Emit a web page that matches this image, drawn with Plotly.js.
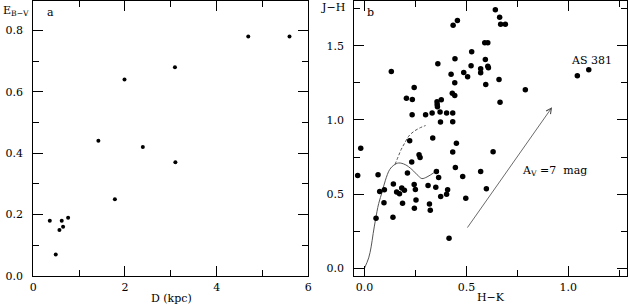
<!DOCTYPE html>
<html>
<head>
<meta charset="utf-8">
<script src="https://cdn.plot.ly/plotly-3.0.1.min.js"></script>
<style>html,body{margin:0;padding:0;background:#fff;}#chart{width:630px;height:304px;}</style>
</head>
<body>
<div id="chart"></div>
<script>
// Panel a: distance vs colour excess
const distKpc = [4.69, 5.59, 1.99, 3.09, 1.42, 2.39, 3.10, 1.78, 0.36, 0.62, 0.76, 0.65, 0.57, 0.49];
const ebv     = [0.78, 0.78, 0.64, 0.68, 0.44, 0.42, 0.37, 0.25, 0.18, 0.18, 0.19, 0.16, 0.15, 0.07];

// Panel b: colour-colour diagram
const hk = [0.132, 0.435, 0.456, 0.590, 0.605, 0.526, 0.360, 0.444, 0.523, 0.593,
            0.605, 0.608, 0.487, 0.506, 0.570, 0.570, 0.425, 0.443, 0.595, 0.244,
            0.431, 0.443, 0.206, 0.235, 0.377, 0.356, 0.357, 0.358, 0.234, 0.300,
            0.332, 0.371, 0.403, 0.433, 0.373, 0.433, 0.335, 0.222, 0.451, -0.018,
            0.642, 0.663, 0.668, 0.691, 0.660, 0.665, 0.789, 1.044, 1.100,
            -0.033, 0.067, 0.268, 0.273, 0.433, 0.232, 0.446, 0.211, 0.353, 0.364,
            0.482, 0.570, 0.598, 0.142, 0.244, 0.312, 0.350, 0.075, 0.098, 0.158,
            0.172, 0.183, 0.196, 0.250, 0.408, 0.403, 0.374, 0.497, 0.096, 0.187,
            0.253, 0.319, 0.245, 0.323, 0.057, 0.140, 0.415, 0.631];
const jh = [1.326, 1.637, 1.669, 1.520, 1.520, 1.459, 1.378, 1.412, 1.365, 1.407,
            1.362, 1.352, 1.320, 1.290, 1.345, 1.318, 1.308, 1.250, 1.238, 1.218,
            1.180, 1.164, 1.146, 1.137, 1.135, 1.122, 1.104, 1.088, 1.034, 1.034,
            1.047, 1.054, 1.047, 1.047, 0.986, 0.988, 0.878, 0.860, 0.842, 0.810,
            1.741, 1.691, 1.644, 1.644, 1.272, 1.119, 1.203, 1.297, 1.338,
            0.626, 0.630, 0.766, 0.747, 0.784, 0.716, 0.680, 0.642, 0.653, 0.612,
            0.619, 0.653, 0.536, 0.568, 0.565, 0.558, 0.547, 0.518, 0.529, 0.514,
            0.502, 0.541, 0.527, 0.531, 0.529, 0.500, 0.484, 0.473, 0.443, 0.439,
            0.461, 0.434, 0.405, 0.392, 0.338, 0.345, 0.203, 0.785];

// Dwarf sequence (solid) and giant branch (dashed)
const dwarfHK = [0.0, 0.021, 0.033, 0.043, 0.054, 0.070, 0.087, 0.103, 0.124, 0.144, 0.168, 0.200, 0.233, 0.266, 0.282, 0.307, 0.339, 0.365];
const dwarfJH = [0.0, 0.071, 0.145, 0.235, 0.325, 0.437, 0.515, 0.594, 0.666, 0.695, 0.710, 0.699, 0.666, 0.621, 0.605, 0.616, 0.643, 0.664];
const giantHK = [0.150, 0.165, 0.180, 0.200, 0.217, 0.240, 0.270, 0.300];
const giantJH = [0.700, 0.750, 0.800, 0.850, 0.890, 0.920, 0.945, 0.962];

// Reddening vector A_V = 7 mag
const vecStart = [0.50, 0.265];
const vecEnd   = [0.92, 1.085];

const FONT = 'DejaVu Serif, Liberation Serif, serif';
const baseAxis = {
  showgrid: false, zeroline: false, showline: true, linecolor: '#000', linewidth: 1,
  mirror: 'allticks', ticks: 'inside', ticklen: 10, tickcolor: '#000', tickwidth: 1,
  tickfont: {family: FONT, size: 11, color: '#000'}
};
const xStand = 1, yStand = 7;

const traces = [
  {x: distKpc, y: ebv, type: 'scatter', mode: 'markers', xaxis: 'x', yaxis: 'y',
   marker: {color: '#000', size: 4}},
  {x: dwarfHK, y: dwarfJH, type: 'scatter', mode: 'lines', xaxis: 'x2', yaxis: 'y2',
   line: {color: '#555', width: 1, shape: 'spline'}},
  {x: giantHK, y: giantJH, type: 'scatter', mode: 'lines', xaxis: 'x2', yaxis: 'y2',
   line: {color: '#555', width: 1, dash: '3px,2px', shape: 'spline'}},
  {x: hk, y: jh, type: 'scatter', mode: 'markers', xaxis: 'x2', yaxis: 'y2',
   marker: {color: '#000', size: 5.5}}
];

const ydom = [1 - 276/304, 1 - 0.5/304];
const layout = {
  width: 630, height: 304, showlegend: false,
  margin: {l: 0, r: 0, t: 0, b: 0},
  paper_bgcolor: '#fff', plot_bgcolor: '#fff',
  font: {family: FONT, size: 11, color: '#000'},
  xaxis: Object.assign({}, baseAxis, {domain: [33.3/630, 308.3/630], range: [0, 6],
    tickvals: [0, 2, 4, 6], ticktext: ['0', '2', '4', '6'], anchor: 'y', ticklabelstandoff: xStand,
    minor: {tickvals: [1, 3, 5], ticks: 'inside', ticklen: 6, tickcolor: '#000'}}),
  yaxis: Object.assign({}, baseAxis, {domain: ydom, range: [0, 0.897], anchor: 'x', ticklabelstandoff: yStand,
    tickvals: [0, 0.2, 0.4, 0.6, 0.8], tickformat: '.1f',
    minor: {tickvals: [0.1, 0.3, 0.5, 0.7], ticks: 'inside', ticklen: 6, tickcolor: '#000'}}),
  xaxis2: Object.assign({}, baseAxis, {domain: [354.2/630, 626.7/630], range: [-0.05, 1.286],
    tickvals: [0, 0.5, 1.0], tickformat: '.1f', anchor: 'y2', ticklabelstandoff: xStand,
    minor: {tickvals: [0.25, 0.75, 1.25], ticks: 'inside', ticklen: 6, tickcolor: '#000'}}),
  yaxis2: Object.assign({}, baseAxis, {domain: ydom, range: [-0.051, 1.804], anchor: 'x2', ticklabelstandoff: yStand,
    tickvals: [0, 0.5, 1.0, 1.5], tickformat: '.1f',
    minor: {tickvals: [0.25, 0.75, 1.25, 1.75], ticks: 'inside', ticklen: 6, tickcolor: '#000'}}),
  annotations: [
    {xref: 'paper', yref: 'paper', x: 1/630, y: 1 - 2/304, xanchor: 'left', yanchor: 'top',
     text: 'E<sub>B−V</sub>', showarrow: false, font: {family: FONT, size: 11}},
    {xref: 'paper', yref: 'paper', x: 333/630, y: 1 - 8/304, xanchor: 'center', yanchor: 'middle',
     text: 'J−H', showarrow: false, font: {family: FONT, size: 11}},
    {xref: 'paper', yref: 'paper', x: 171/630, y: 1 - 298/304, xanchor: 'center', yanchor: 'middle',
     text: 'D (kpc)', showarrow: false, font: {family: FONT, size: 11}},
    {xref: 'paper', yref: 'paper', x: 491/630, y: 1 - 297/304, xanchor: 'center', yanchor: 'middle',
     text: 'H−K', showarrow: false, font: {family: FONT, size: 11}},
    {xref: 'paper', yref: 'paper', x: 50/630, y: 1 - 13/304, xanchor: 'center', yanchor: 'middle',
     text: 'a', showarrow: false, font: {family: FONT, size: 11}},
    {xref: 'paper', yref: 'paper', x: 370/630, y: 1 - 12/304, xanchor: 'center', yanchor: 'middle',
     text: 'b', showarrow: false, font: {family: FONT, size: 11}},
    {xref: 'x2', yref: 'y2', x: 1.111, y: 1.403, xanchor: 'center', yanchor: 'middle',
     text: 'AS 381', showarrow: false, font: {family: FONT, size: 11}},
    {xref: 'x2', yref: 'y2', x: 0.764, y: 0.654, xanchor: 'left', yanchor: 'middle',
     text: 'A<sub>V</sub> =7  mag', showarrow: false, font: {family: FONT, size: 11}},
    {xref: 'x2', yref: 'y2', axref: 'x2', ayref: 'y2', x: vecEnd[0], y: vecEnd[1],
     ax: vecStart[0], ay: vecStart[1], text: '', showarrow: true, arrowhead: 5,
     arrowsize: 1.3, arrowwidth: 0.8, arrowcolor: '#444', standoff: 0, startstandoff: 0}
  ]
};

Plotly.newPlot('chart', traces, layout, {staticPlot: true, displayModeBar: false});
</script>
</body>
</html>
